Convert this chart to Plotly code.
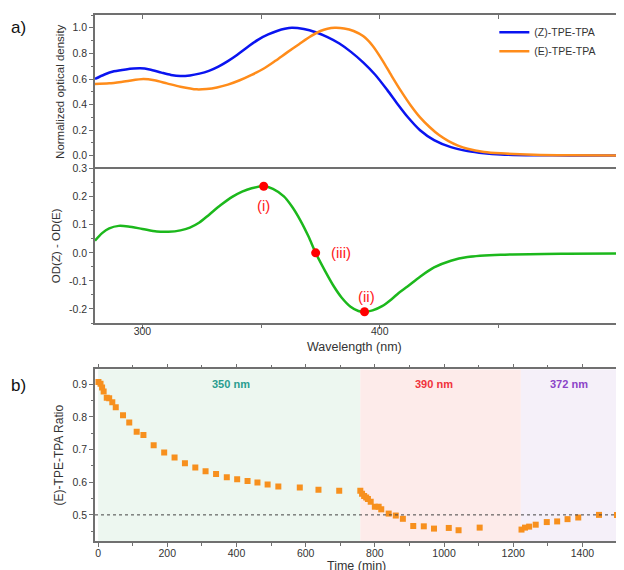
import plotly.graph_objects as go

# ---- Panel a (top): normalized optical density ----
wl_z = [280, 284, 288, 293, 299, 303, 308, 312, 316, 320, 324, 328, 332, 336, 340, 345, 349, 353, 357, 360, 363, 368, 373, 378, 383, 388, 393, 398, 403.2, 407.5, 411.7, 417, 422.9, 430, 437, 444, 451, 465, 480, 500]
od_z = [0.60, 0.635, 0.66, 0.675, 0.683, 0.675, 0.65, 0.632, 0.623, 0.628, 0.642, 0.664, 0.697, 0.74, 0.79, 0.86, 0.91, 0.948, 0.977, 0.992, 1.0, 0.99, 0.965, 0.927, 0.877, 0.81, 0.73, 0.635, 0.513, 0.405, 0.305, 0.20, 0.123, 0.068, 0.037, 0.02, 0.011, 0.005, 0.003, 0.003]

wl_e = [280, 286, 293, 300.4, 305, 310.3, 316, 322.9, 327, 331.4, 336, 341, 346, 351, 356, 361, 366, 371, 375, 378, 381, 385, 389, 393, 397, 401, 405, 409, 413, 417, 421, 425, 429, 433, 437, 444, 451, 465, 480, 500]
od_e = [0.56, 0.566, 0.582, 0.599, 0.59, 0.566, 0.54, 0.519, 0.522, 0.534, 0.556, 0.59, 0.632, 0.68, 0.742, 0.808, 0.872, 0.935, 0.975, 0.993, 1.0, 0.995, 0.975, 0.935, 0.86, 0.75, 0.625, 0.505, 0.395, 0.30, 0.225, 0.162, 0.115, 0.08, 0.055, 0.03, 0.019, 0.008, 0.004, 0.003]

# ---- Panel a (middle): difference spectrum ----
wl_d = [280, 283, 286, 290, 294, 300, 306, 311, 316, 320, 324, 328, 333, 338, 342, 346, 351.1, 355, 359.6, 363, 366.6, 370, 373, 377, 380.7, 384, 387.7, 391, 393.6, 397, 401, 405, 408, 411.7, 417, 422.9, 430, 437, 451, 479, 500]
od_d = [0.043, 0.07, 0.087, 0.096, 0.094, 0.085, 0.076, 0.075, 0.08, 0.09, 0.108, 0.135, 0.17, 0.20, 0.218, 0.23, 0.237, 0.228, 0.201, 0.165, 0.115, 0.058, 0.0, -0.065, -0.12, -0.16, -0.192, -0.207, -0.21, -0.205, -0.19, -0.165, -0.143, -0.12, -0.085, -0.052, -0.028, -0.015, -0.007, -0.003, -0.002]

pt_wl = [351.1, 373, 393.6]
pt_od = [0.237, 0.0, -0.21]
pt_lab = ["(i)", "(iii)", "(ii)"]

# ---- Panel b: E ratio vs time ----
t_min = [1, 7, 11.5, 16, 25, 32, 41, 51, 72, 90, 111.5, 131, 160.6, 191, 221, 251, 281, 310.6, 341, 372, 402, 432, 460.6, 490, 521, 583, 637, 697,
         758, 763, 769, 775, 780, 788, 800, 811, 818.5, 840, 860.5, 881, 911, 941.5, 971, 1013.7, 1042, 1103,
         1224, 1234, 1246, 1265, 1297, 1327, 1357, 1388, 1448, 1500]
ratio = [0.907, 0.902, 0.89, 0.878, 0.859, 0.857, 0.845, 0.83, 0.805, 0.783, 0.755, 0.745, 0.713, 0.691, 0.676, 0.658, 0.645, 0.634, 0.625, 0.615, 0.609, 0.604, 0.599, 0.593, 0.587, 0.584, 0.577, 0.574,
         0.574, 0.565, 0.558, 0.553, 0.549, 0.540, 0.525, 0.525, 0.517, 0.504, 0.498, 0.488, 0.466, 0.465, 0.458, 0.46, 0.453, 0.461,
         0.455, 0.461, 0.464, 0.47, 0.478, 0.48, 0.487, 0.492, 0.5, 0.5]

regions = [(0, 758, "rgba(232,245,236,0.8)", "350 nm", "#2a9d8f", 384),
           (758, 1222, "rgba(253,232,230,0.85)", "390 nm", "#f0323c", 971),
           (1222, 1500, "rgba(244,238,248,0.9)", "372 nm", "#8b44c8", 1360)]

fig = go.Figure()

fig.add_trace(go.Scatter(x=wl_z, y=od_z, mode="lines", name="(Z)-TPE-TPA", line=dict(color="#0a14f0", width=2.5, shape="spline", smoothing=0.8), xaxis="x", yaxis="y"))
fig.add_trace(go.Scatter(x=wl_e, y=od_e, mode="lines", name="(E)-TPE-TPA", line=dict(color="#ff8c1a", width=2.5, shape="spline", smoothing=0.8), xaxis="x", yaxis="y"))

fig.add_trace(go.Scatter(x=wl_d, y=od_d, mode="lines", showlegend=False, line=dict(color="#1cb81c", width=2.5, shape="spline", smoothing=0.8), xaxis="x2", yaxis="y2"))
fig.add_trace(go.Scatter(x=pt_wl, y=pt_od, mode="markers", showlegend=False, marker=dict(color="#ff0000", size=9), xaxis="x2", yaxis="y2"))

fig.add_trace(go.Scatter(x=t_min, y=ratio, mode="markers", showlegend=False, marker=dict(color="#f7901e", size=6, symbol="square"), xaxis="x3", yaxis="y3"))

shapes = []
annotations = []
for x0, x1, col, lab, tcol, tx in regions:
    shapes.append(dict(type="rect", xref="x3", yref="y3", x0=x0, x1=x1, y0=0.42, y1=0.946, fillcolor=col, line=dict(width=0), layer="below"))
    annotations.append(dict(x=tx, y=0.9, xref="x3", yref="y3", text="<b>" + lab + "</b>", showarrow=False, font=dict(color=tcol, size=11, family="Liberation Sans Narrow, Arial Narrow, Arial")))
shapes.append(dict(type="line", xref="x3", yref="y3", x0=-9, x1=1500, y0=0.5, y1=0.5, line=dict(color="#444444", width=1, dash="dot"), layer="above"))

offsets = [(0, -19), (25, 0), (2, 15)]
for (x, y, lab), (ax, ay) in zip(zip(pt_wl, pt_od, pt_lab), offsets):
    annotations.append(dict(x=x, y=y, xref="x2", yref="y2", text=lab, showarrow=False, xshift=ax, yshift=ay, font=dict(color="#ff2020", size=15)))

annotations.append(dict(x=-0.165, y=0.977, xref="paper", yref="paper", text="a)", showarrow=False, xanchor="left", yanchor="middle", font=dict(size=17, color="#111")))
annotations.append(dict(x=-0.165, y=0.2947, xref="paper", yref="paper", text="b)", showarrow=False, xanchor="left", yanchor="middle", font=dict(size=17, color="#111")))
# x-axis titles
annotations.append(dict(x=0.498, y=0.3695, xref="paper", yref="paper", text="Wavelength (nm)", showarrow=False, xanchor="center", yanchor="middle", font=dict(size=12.5, color="#333")))
annotations.append(dict(x=0.5, y=-0.047, xref="paper", yref="paper", text="Time (min)", showarrow=False, xanchor="center", yanchor="middle", font=dict(size=12.5, color="#333")))

axis_common = dict(showline=True, linecolor="#707070", linewidth=1.5, ticks="outside", ticklen=4, tickcolor="#707070", automargin=False,
                   tickfont=dict(size=10.5, color="#333"), showgrid=False, zeroline=False)

fig.update_layout(
    width=616, height=562,
    margin=dict(l=87, r=7, t=7, b=29),
    paper_bgcolor="white", plot_bgcolor="white",
    font=dict(family="Liberation Sans, Arial", color="#333"),
    shapes=shapes, annotations=annotations,
    legend=dict(x=0.765, y=0.995, xanchor="left", yanchor="top", bgcolor="rgba(0,0,0,0)", font=dict(size=10.5, color="#333"), tracegroupgap=0, itemwidth=30),
    xaxis=dict(axis_common, side="top", mirror=False, ticks="inside", domain=[0, 1], range=[280, 500], anchor="y", showticklabels=False, dtick=50),
    yaxis=dict(axis_common, mirror="ticks", domain=[0.708, 1.0], range=[-0.1, 1.1], tickvals=[0, 0.2, 0.4, 0.6, 0.8, 1.0], ticktext=["0.0", "0.2", "0.4", "0.6", "0.8", "1.0"],
               minor=dict(ticks="outside", ticklen=2, dtick=0.1, tickcolor="#707070"),
               title=dict(text="Normalized optical density", font=dict(size=11.5), standoff=6)),
    xaxis2=dict(axis_common, mirror=True, domain=[0, 1], range=[280, 500], anchor="y2", tickvals=[300, 400, 500], minor=dict(ticks="outside", ticklen=3, dtick=50, tickcolor="#707070"),
                ticklabelstandoff=-6),
    yaxis2=dict(axis_common, mirror="ticks", domain=[0.4144, 0.708], range=[-0.25, 0.3], tickvals=[-0.2, -0.1, 0, 0.1, 0.2, 0.3], ticktext=["-0.2", "-0.1", "0.0", "0.1", "0.2", "0.3"],
                minor=dict(ticks="outside", ticklen=2, dtick=0.05, tickcolor="#707070"),
                title=dict(text="OD(Z) - OD(E)", font=dict(size=11.5), standoff=6)),
    xaxis3=dict(axis_common, mirror="ticks", domain=[0, 1], range=[-9, 1500], anchor="y3", dtick=200, minor=dict(ticks="outside", ticklen=3, dtick=100, tickcolor="#707070"),
                ticklabelstandoff=-2),
    yaxis3=dict(axis_common, mirror="ticks", domain=[0, 0.3264], range=[0.42, 0.946], dtick=0.1, minor=dict(ticks="outside", ticklen=2, dtick=0.05, tickcolor="#707070"),
                title=dict(text="(E)-TPE-TPA Ratio", font=dict(size=12), standoff=6)),
)

fig.write_html("out.html")
